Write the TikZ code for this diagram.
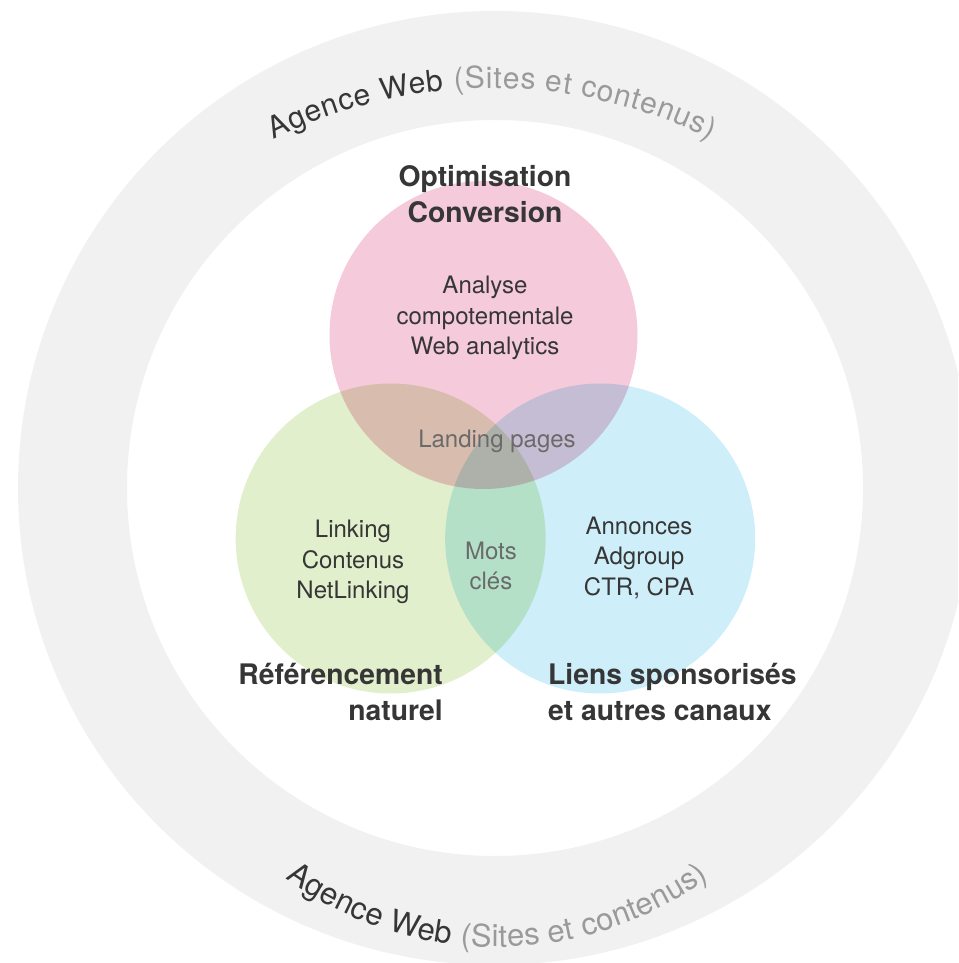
\documentclass[tikz,border=0pt]{standalone}
\usepackage{fontspec}
\setmainfont{TeX Gyre Heros}
\usepackage{tikz}
\usetikzlibrary{decorations.text}
\definecolor{ringgray}{HTML}{F1F1F1}
\definecolor{vennpink}{HTML}{F5CADA}
\definecolor{venngreen}{HTML}{E1EFCD}
\definecolor{vennblue}{HTML}{CEEFF9}
\definecolor{txtdark}{HTML}{363636}
\definecolor{txtsoft}{HTML}{6A6A6A}
\definecolor{txtlight}{HTML}{9A9A9A}

\begin{document}
\begin{tikzpicture}[x=1pt,y=1pt,
  body/.style={font=\fontsize{24}{30.5}\selectfont, text=txtdark, align=center, inner sep=0pt},
  soft/.style={body, text=txtsoft},
  title/.style={font=\bfseries\fontsize{28.3}{36}\selectfont, text=txtdark, inner sep=0pt}]
\useasboundingbox (-495,-475) rectangle (463,488);
\clip (-495,-475) rectangle (463,488);
% ring
\fill[ringgray, even odd rule] (0,0) circle[radius=477pt] (0,0) circle[radius=368pt];
\path[decorate, decoration={text along path, text align=fit to path,
  text={|\fontsize{30}{32}\selectfont\color{txtdark}|Agence Web |\fontsize{30}{32}\selectfont\color{txtlight}|(Sites et contenus)}}]
  (-3,-90) ++(116.5:490pt) arc[start angle=116.5, end angle=63.5, radius=490pt];
\path[decorate, decoration={text along path, text align=fit to path,
  text={|\fontsize{31}{32}\selectfont\color{txtdark}|Agence Web |\fontsize{31}{32}\selectfont\color{txtlight}|(Sites et contenus)}}]
  (2,-99) ++(234:360pt) arc[start angle=234, end angle=306, radius=360pt];
% venn
\begin{scope}[blend group=multiply]
\fill[vennpink] (-11.5,153) circle[radius=154pt];
\fill[venngreen] (-104.3,-50.5) circle[radius=155pt];
\fill[vennblue] (105.2,-50.5) circle[radius=155pt];
\end{scope}
% labels
\node[title, align=center] (optim) at (-10,294) {Optimisation\\Conversion};
\node[body] (analyse) at (-10,170) {Analyse\\compotementale\\Web analytics};
\node[soft] (landing) at (2,47) {Landing pages};
\node[body] (linking) at (-142,-74) {Linking\\Contenus\\NetLinking};
\node[soft] (mots) at (-4,-78) {Mots\\clés};
\node[body] (annonces) at (144,-70) {Annonces\\Adgroup\\CTR, CPA};
\node[title, align=right, anchor=east] (referencement) at (-52,-203.5) {Référencement\\naturel};
\node[title, align=left, anchor=west] (liens) at (53,-203.5) {Liens sponsorisés\\et autres canaux};
\end{tikzpicture}
\end{document}
